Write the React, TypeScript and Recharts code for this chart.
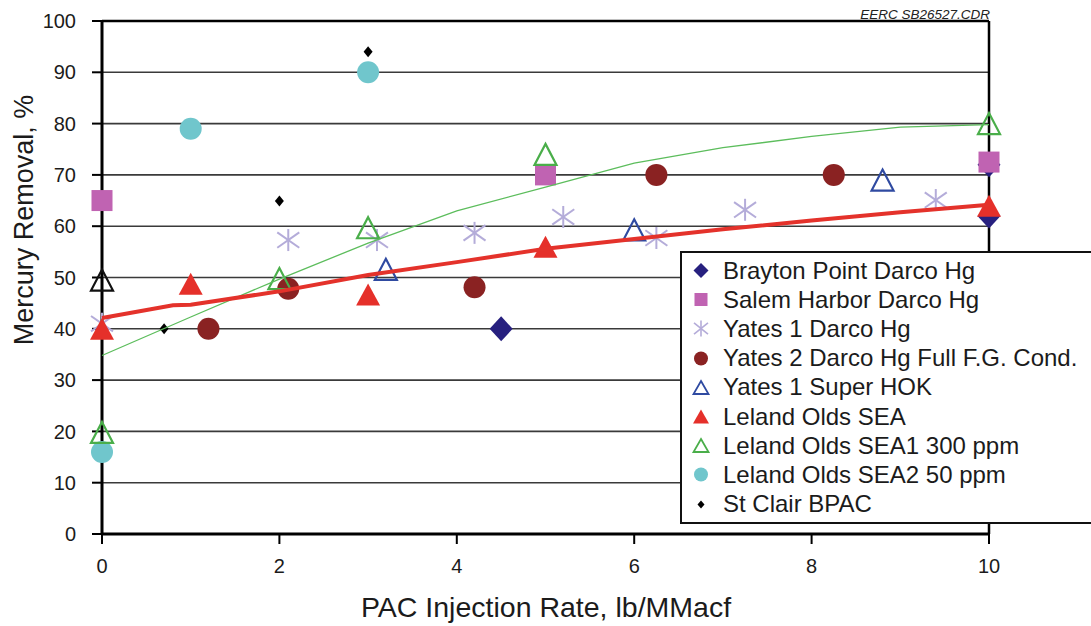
import React from 'react';
import {
  ComposedChart,
  Scatter,
  XAxis,
  YAxis,
  CartesianGrid,
  ReferenceLine,
  Legend,
  Label,
} from 'recharts';

// values (x = PAC rate lb/MMacf, y = Hg removal %)
const xTicks = [0, 2, 4, 6, 8, 10];
const yTicks = [0, 10, 20, 30, 40, 50, 60, 70, 80, 90, 100];

const braytonPoint = [
  { x: 4.5, y: 40 },
  { x: 10, y: 72 },
  { x: 10, y: 62 },
];
const salemHarbor = [
  { x: 0, y: 65 },
  { x: 5, y: 70 },
  { x: 10, y: 72.5 },
];
const yates1Darco = [
  { x: 0, y: 41 },
  { x: 2.1, y: 57.3 },
  { x: 3.1, y: 57.3 },
  { x: 4.2, y: 58.7 },
  { x: 5.2, y: 61.8 },
  { x: 6.25, y: 57.7 },
  { x: 7.25, y: 63.2 },
  { x: 9.4, y: 65.1 },
];
const yates2Darco = [
  { x: 1.2, y: 40 },
  { x: 2.1, y: 47.8 },
  { x: 4.2, y: 48.1 },
  { x: 6.25, y: 70 },
  { x: 8.25, y: 70 },
];
const yates1Hok = [
  { x: 3.2, y: 51.6 },
  { x: 6.0, y: 59.3 },
  { x: 8.8, y: 69 },
];
const baselineOpen = [{ x: 0, y: 49.5 }];
const lelandSea = [
  { x: 0, y: 40 },
  { x: 1, y: 48.8 },
  { x: 3, y: 46.7 },
  { x: 5, y: 56 },
  { x: 10, y: 64 },
];
const lelandSea1 = [
  { x: 0, y: 19.8 },
  { x: 2, y: 49.8 },
  { x: 3, y: 59.7 },
  { x: 5, y: 74 },
  { x: 10, y: 80 },
];
const lelandSea2 = [
  { x: 0, y: 16 },
  { x: 1, y: 79 },
  { x: 3, y: 90 },
];
const stClair = [
  { x: 0.7, y: 40 },
  { x: 2, y: 64.9 },
  { x: 3, y: 94 },
];
const redTrend = [
  { x: 0, y: 42.1 },
  { x: 0.8, y: 44.6 },
  { x: 1, y: 44.7 },
  { x: 2, y: 47.3 },
  { x: 3, y: 50.5 },
  { x: 4, y: 53 },
  { x: 5, y: 55.6 },
  { x: 6, y: 57.5 },
  { x: 7, y: 59.4 },
  { x: 8, y: 61.1 },
  { x: 9, y: 62.7 },
  { x: 10, y: 64.2 },
];
const greenTrend = [
  { x: 0, y: 34.8 },
  { x: 1, y: 42.3 },
  { x: 2, y: 49.7 },
  { x: 3, y: 56.7 },
  { x: 4, y: 63 },
  { x: 5, y: 67.6 },
  { x: 6, y: 72.3 },
  { x: 7, y: 75.3 },
  { x: 8, y: 77.5 },
  { x: 9, y: 79.3 },
  { x: 10, y: 79.8 },
];

const FONT = '"Liberation Sans", Arial, Helvetica, sans-serif';

type P = { cx?: number; cy?: number };

const diamond = (w: number, h: number, fill: string) => (p: P) => {
  const { cx = 0, cy = 0 } = p;
  return (
    <polygon
      points={`${cx},${cy - h} ${cx + w},${cy} ${cx},${cy + h} ${cx - w},${cy}`}
      fill={fill}
    />
  );
};
const square = (s: number, fill: string) => (p: P) => {
  const { cx = 0, cy = 0 } = p;
  return <rect x={cx - s / 2} y={cy - s / 2} width={s} height={s} fill={fill} />;
};
const dot = (r: number, fill: string) => (p: P) => {
  const { cx = 0, cy = 0 } = p;
  return <circle cx={cx} cy={cy} r={r} fill={fill} />;
};
const triangle = (w: number, h: number, color: string, open: boolean, sw = 2.2) => (p: P) => {
  const { cx = 0, cy = 0 } = p;
  return (
    <polygon
      points={`${cx},${cy - h / 2} ${cx + w / 2},${cy + h / 2} ${cx - w / 2},${cy + h / 2}`}
      fill={open ? 'none' : color}
      stroke={color}
      strokeWidth={open ? sw : 0}
      strokeLinejoin="miter"
    />
  );
};
const asterisk = (w: number, h: number, color: string, sw = 2) => (p: P) => {
  const { cx = 0, cy = 0 } = p;
  return (
    <g stroke={color} strokeWidth={sw}>
      <line x1={cx} y1={cy - h} x2={cx} y2={cy + h} />
      <line x1={cx - w} y1={cy - h * 0.7} x2={cx + w} y2={cy + h * 0.7} />
      <line x1={cx - w} y1={cy + h * 0.7} x2={cx + w} y2={cy - h * 0.7} />
    </g>
  );
};
const noMark = () => <g />;

const legendItems = [
  { name: 'Brayton Point Darco Hg', icon: diamond(7.5, 7.5, '#27207f') },
  { name: 'Salem Harbor Darco Hg', icon: square(13, '#c063b2') },
  { name: 'Yates 1 Darco Hg', icon: asterisk(7, 8, '#b4acd9', 1.6) },
  { name: 'Yates 2 Darco Hg Full F.G. Cond.', icon: dot(7, '#8a2222') },
  { name: 'Yates 1 Super HOK', icon: triangle(15, 13, '#2f4aa1', true, 1.8) },
  { name: 'Leland Olds SEA', icon: triangle(16, 14, '#e5302a', false) },
  { name: 'Leland Olds SEA1 300 ppm', icon: triangle(15, 13, '#4aae4a', true, 1.8) },
  { name: 'Leland Olds SEA2 50 ppm', icon: dot(7, '#70c6cc') },
  { name: 'St Clair BPAC', icon: diamond(3.5, 4, '#000') },
];

function LegendBox() {
  return (
    <div
      style={{
        boxSizing: 'border-box',
        width: 411,
        height: 273,
        background: '#fff',
        borderTop: '2px solid #111',
        borderLeft: '2px solid #111',
        borderBottom: '2px solid #111',
        paddingTop: 3,
        fontFamily: FONT,
      }}
    >
      {legendItems.map((item) => (
        <div key={item.name} style={{ display: 'flex', alignItems: 'center', height: 29.2 }}>
          <svg width={41} height={29} style={{ flex: 'none' }}>
            {item.icon({ cx: 19, cy: 14.5 })}
          </svg>
          <span style={{ fontSize: 24, color: '#1b1b1b', whiteSpace: 'nowrap' }}>{item.name}</span>
        </div>
      ))}
    </div>
  );
}

export default function App() {
  return (
    <div style={{ position: 'absolute', left: 0, top: 0, background: '#fff' }}>
      <ComposedChart
        width={1091}
        height={626}
        margin={{ top: 21, right: 102, left: 22, bottom: 24 }}
      >
        <CartesianGrid vertical={false} stroke="#3a3a3a" strokeWidth={1.6} />
        <XAxis
          type="number"
          dataKey="x"
          domain={[0, 10]}
          ticks={xTicks}
          interval={0}
          height={68}
          tickSize={10}
          tickMargin={15}
          axisLine={{ stroke: '#000', strokeWidth: 3 }}
          tickLine={{ stroke: '#000', strokeWidth: 2 }}
          tick={{ fill: '#1b1b1b', fontSize: 20, fontFamily: FONT }}
        >
          <Label
            content={() => (
              <text
                x={546}
                y={617}
                textAnchor="middle"
                fontSize={28.5}
                fontFamily={FONT}
                fill="#1b1b1b"
              >
                PAC Injection Rate, lb/MMacf
              </text>
            )}
          />
        </XAxis>
        <YAxis
          type="number"
          dataKey="y"
          domain={[0, 100]}
          ticks={yTicks}
          interval={0}
          width={80}
          tickSize={10}
          tickMargin={16}
          axisLine={{ stroke: '#000', strokeWidth: 3 }}
          tickLine={{ stroke: '#000', strokeWidth: 2 }}
          tick={{ fill: '#1b1b1b', fontSize: 20, fontFamily: FONT }}
        >
          <Label
            content={() => (
              <text
                x={24}
                y={220}
                transform="rotate(-90 24 220)"
                textAnchor="middle"
                dominantBaseline="central"
                fontSize={27}
                fontFamily={FONT}
                fill="#1b1b1b"
              >
                Mercury Removal, %
              </text>
            )}
          />
        </YAxis>
        <ReferenceLine y={100} stroke="#000" strokeWidth={2.5}>
          <Label
            content={() => (
              <text
                x={990}
                y={19}
                textAnchor="end"
                fontSize={13.5}
                fontStyle="italic"
                fontFamily={FONT}
                fill="#222"
              >
                EERC SB26527.CDR
              </text>
            )}
          />
        </ReferenceLine>
        <ReferenceLine x={10} stroke="#000" strokeWidth={2.5} />

        <Scatter name="Brayton Point Darco Hg" data={braytonPoint} shape={diamond(11.5, 12.5, '#27207f')} isAnimationActive={false} />
        <Scatter name="Salem Harbor Darco Hg" data={salemHarbor} shape={square(21, '#c063b2')} isAnimationActive={false} />
        <Scatter name="Yates 1 Darco Hg" data={yates1Darco} shape={asterisk(11, 11, '#b4acd9')} isAnimationActive={false} />
        <Scatter name="Yates 2 Darco Hg Full F.G. Cond." data={yates2Darco} shape={dot(11, '#8a2222')} isAnimationActive={false} />
        <Scatter name="Yates 1 Super HOK" data={yates1Hok} shape={triangle(22, 21, '#2f4aa1', true)} isAnimationActive={false} />
        <Scatter name="baseline" data={baselineOpen} shape={triangle(22, 21, '#111', true)} isAnimationActive={false} />
        <Scatter name="Leland Olds SEA2 50 ppm" data={lelandSea2} shape={dot(11, '#70c6cc')} isAnimationActive={false} />
        <Scatter name="Leland Olds SEA1 300 ppm" data={lelandSea1} shape={triangle(22, 21, '#4aae4a', true)} isAnimationActive={false} />
        <Scatter name="Leland Olds SEA" data={lelandSea} shape={triangle(24, 22, '#e5302a', false)} isAnimationActive={false} />
        <Scatter name="St Clair BPAC" data={stClair} shape={diamond(4.5, 5.5, '#000')} isAnimationActive={false} />

        <Scatter
          name="green fit"
          data={greenTrend}
          line={{ stroke: '#5cbd5c', strokeWidth: 1.3 }}
          lineType="joint"
          shape={noMark}
          isAnimationActive={false}
        />
        <Scatter
          name="red fit"
          data={redTrend}
          line={{ stroke: '#e4322b', strokeWidth: 4 }}
          lineType="joint"
          shape={noMark}
          isAnimationActive={false}
        />

        <Legend
          layout="horizontal"
          verticalAlign="middle"
          align="center"
          wrapperStyle={{ left: 680, top: 251, width: 411, height: 273 }}
          content={() => <LegendBox />}
        />
      </ComposedChart>
    </div>
  );
}
